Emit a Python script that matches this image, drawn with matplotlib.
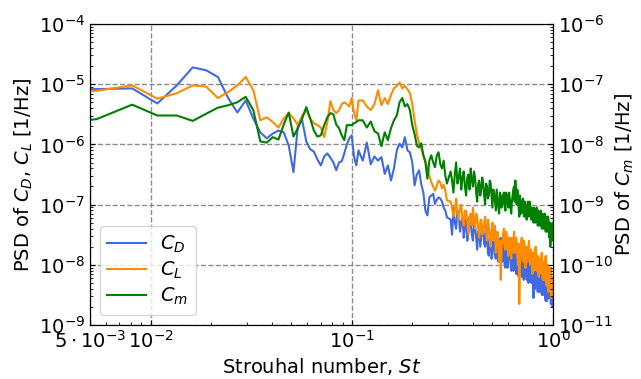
import numpy as np
import matplotlib.pyplot as plt
from matplotlib.ticker import NullFormatter

# Strouhal number bins (Welch PSD frequencies, thinned at high St)
ST = [
    0.0027, 0.0054, 0.0081, 0.0108, 0.0135, 0.0162, 0.0189, 0.0216, 0.0243, 0.0270,
    0.0297, 0.0324, 0.0351, 0.0378, 0.0405, 0.0432, 0.0459, 0.0486, 0.0513, 0.0540,
    0.0567, 0.0594, 0.0621, 0.0648, 0.0675, 0.0702, 0.0729, 0.0756, 0.0783, 0.0810,
    0.0837, 0.0864, 0.0891, 0.0918, 0.0945, 0.0972, 0.0999, 0.1026, 0.1053, 0.1080,
    0.1134, 0.1188, 0.1242, 0.1296, 0.1350, 0.1404, 0.1458, 0.1512, 0.1566, 0.1620,
    0.1674, 0.1728, 0.1782, 0.1836, 0.1890, 0.1944, 0.1998, 0.2052, 0.2106, 0.2160,
    0.2214, 0.2268, 0.2322, 0.2376, 0.2430, 0.2484, 0.2538, 0.2592, 0.2646, 0.2700,
    0.2754, 0.2808, 0.2862, 0.2916, 0.2970,
    0.310, 0.315, 0.320, 0.325, 0.330, 0.335, 0.340, 0.345, 0.350, 0.355,
    0.360, 0.365, 0.370, 0.375, 0.380, 0.385, 0.390, 0.395, 0.400, 0.405,
    0.410, 0.415, 0.420, 0.425, 0.430, 0.435, 0.440, 0.445, 0.450, 0.455,
    0.460, 0.465, 0.470, 0.475, 0.480, 0.485, 0.490, 0.495, 0.500, 0.505,
    0.510, 0.515, 0.520, 0.525, 0.530, 0.535, 0.540, 0.545, 0.550, 0.555,
    0.560, 0.565, 0.570, 0.575, 0.580, 0.585, 0.590, 0.595, 0.600, 0.605,
    0.610, 0.615, 0.620, 0.625, 0.630, 0.635, 0.640, 0.645, 0.650, 0.655,
    0.660, 0.665, 0.670, 0.675, 0.680, 0.685, 0.690, 0.695, 0.700, 0.705,
    0.710, 0.715, 0.720, 0.725, 0.730, 0.735, 0.740, 0.745, 0.750, 0.755,
    0.760, 0.765, 0.770, 0.775, 0.780, 0.785, 0.790, 0.795, 0.800, 0.805,
    0.810, 0.815, 0.820, 0.825, 0.830, 0.835, 0.840, 0.845, 0.850, 0.855,
    0.860, 0.865, 0.870, 0.875, 0.880, 0.885, 0.890, 0.895, 0.900, 0.905,
    0.910, 0.915, 0.920, 0.925, 0.930, 0.935, 0.940, 0.945, 0.950, 0.955,
    0.960, 0.965, 0.970, 0.975, 0.980, 0.985, 0.990, 0.995,
    1.000,
]

# log10 of PSD [1/Hz]
LOG_CD = [
    -5.10, -5.08, -5.07, -5.32, -5.02, -4.72, -4.77, -4.88, -5.23, -5.47,
    -5.27, -5.57, -5.80, -5.90, -5.82, -5.77, -5.80, -6.02, -6.46, -5.68,
    -5.60, -5.95, -6.08, -6.12, -6.25, -6.35, -6.20, -6.15, -6.22, -6.30,
    -6.43, -6.30, -6.28, -6.15, -6.00, -5.90, -5.85, -6.20, -6.35, -6.10,
    -6.27, -5.97, -6.33, -6.20, -6.27, -6.21, -6.49, -6.35, -6.60, -6.40,
    -6.10, -5.99, -6.05, -5.88, -6.10, -6.13, -6.30, -6.68, -6.50, -6.43,
    -6.66, -6.80, -7.10, -7.18, -6.88, -6.85, -6.82, -6.99, -6.92, -6.88,
    -6.90, -6.95, -7.05, -7.10, -7.21,
    -7.25, -7.50, -7.05, -7.30, -7.40, -7.10, -7.15, -7.45, -7.30, -7.20,
    -7.55, -7.35, -7.25, -7.60, -7.45, -7.20, -7.30, -7.50, -7.60, -7.30,
    -7.35, -7.55, -7.75, -7.45, -7.40, -7.70, -7.55, -7.40, -7.35, -7.65,
    -7.70, -7.45, -7.50, -7.80, -7.85, -7.55, -7.55, -7.90, -7.80, -7.50,
    -7.60, -7.85, -7.90, -7.60, -7.65, -7.95, -7.75, -7.60, -7.55, -7.85,
    -7.95, -7.65, -7.70, -8.00, -8.05, -7.70, -7.75, -8.05, -7.90, -7.65,
    -7.70, -7.95, -8.10, -7.75, -7.80, -8.10, -8.05, -7.80, -7.85, -8.15,
    -8.15, -7.80, -7.85, -8.20, -8.00, -7.75, -7.80, -8.10, -8.20, -7.90,
    -7.90, -8.25, -8.10, -7.85, -7.85, -8.15, -8.25, -7.95, -8.00, -8.30,
    -8.15, -7.90, -7.95, -8.25, -8.30, -8.00, -8.05, -8.35, -8.55, -8.15,
    -8.10, -8.40, -8.30, -8.05, -8.05, -8.35, -8.45, -8.10, -8.15, -8.45,
    -8.35, -8.10, -8.10, -8.40, -8.50, -8.15, -8.20, -8.50, -8.40, -8.15,
    -8.25, -8.55, -8.60, -8.25, -8.30, -8.60, -8.45, -8.20, -8.25, -8.55,
    -8.55, -8.30, -8.35, -8.65, -8.60, -8.35, -8.40, -8.70,
    -8.65,
]

LOG_CL = [
    -5.15, -5.11, -5.02, -5.24, -5.15, -5.02, -5.04, -5.23, -5.13, -5.02,
    -4.88, -5.10, -5.60, -5.55, -5.63, -5.72, -5.57, -5.48, -5.57, -5.68,
    -5.52, -5.43, -5.57, -5.65, -5.68, -5.72, -5.88, -5.63, -5.28, -5.43,
    -5.48, -5.43, -5.33, -5.30, -5.33, -5.37, -5.23, -5.47, -5.60, -5.27,
    -5.27, -5.37, -5.43, -5.33, -5.10, -5.35, -5.23, -5.33, -5.18, -5.07,
    -5.03, -4.97, -5.07, -5.03, -5.08, -5.15, -5.33, -5.60, -5.83, -5.98,
    -6.07, -6.18, -6.27, -6.40, -6.52, -6.63, -6.70, -6.77, -6.68, -6.60,
    -6.63, -6.73, -6.67, -6.77, -6.93,
    -6.95, -7.05, -7.20, -7.10, -6.90, -7.15, -7.25, -7.05, -7.00, -7.25,
    -7.35, -7.10, -7.10, -7.30, -7.50, -7.20, -7.15, -7.35, -7.05, -7.25,
    -7.40, -7.15, -7.20, -7.40, -7.55, -7.30, -7.25, -7.50, -7.45, -7.30,
    -7.20, -7.45, -7.60, -7.25, -7.35, -7.55, -7.70, -7.45, -7.30, -7.60,
    -7.55, -7.35, -7.80, -7.55, -7.45, -7.65, -7.95, -7.60, -8.25, -7.75,
    -7.60, -7.50, -7.40, -7.65, -7.75, -7.45, -7.50, -7.70, -7.85, -7.55,
    -7.55, -7.75, -7.90, -7.55, -7.60, -7.80, -7.45, -7.65, -7.80, -7.55,
    -7.60, -7.85, -8.00, -7.65, -8.65, -7.95, -7.70, -7.60, -7.55, -7.85,
    -7.95, -7.60, -7.65, -7.90, -8.05, -7.70, -7.70, -7.95, -7.90, -7.70,
    -7.60, -7.90, -8.00, -7.75, -7.75, -8.00, -8.15, -7.85, -7.80, -8.10,
    -8.05, -7.80, -7.70, -8.05, -8.10, -7.85, -7.85, -8.15, -8.20, -7.90,
    -7.90, -8.15, -8.10, -7.85, -7.80, -8.10, -8.25, -7.95, -7.95, -8.25,
    -8.15, -7.95, -7.85, -8.20, -8.35, -8.05, -8.00, -8.25, -8.45, -8.05,
    -8.10, -8.35, -8.30, -8.05, -8.55, -8.30, -8.20, -8.50,
    -8.40,
]

LOG_CM = [
    -7.70, -7.58, -7.34, -7.52, -7.52, -7.61, -7.49, -7.39, -7.35, -7.30,
    -7.21, -7.43, -7.95, -7.97, -7.88, -7.92, -7.67, -7.47, -7.87, -7.73,
    -7.57, -7.38, -7.57, -7.77, -7.87, -7.85, -7.68, -7.55, -7.48, -7.50,
    -7.67, -7.73, -7.85, -7.93, -7.68, -7.68, -7.68, -7.65, -7.63, -7.60,
    -7.60, -7.72, -7.62, -7.78, -7.82, -8.03, -7.80, -7.93, -7.73, -7.60,
    -7.52, -7.30, -7.23, -7.37, -7.33, -7.43, -7.68, -7.83, -8.02, -8.05,
    -7.98, -8.18, -8.30, -8.57, -8.27, -8.18, -8.30, -8.38, -8.18, -8.13,
    -8.33, -8.40, -8.27, -8.52, -8.65,
    -8.45, -8.60, -8.80, -8.50, -8.30, -8.65, -8.55, -8.40, -8.75, -8.55,
    -8.45, -8.70, -8.85, -8.55, -8.50, -8.75, -8.40, -8.60, -8.70, -8.45,
    -8.55, -8.80, -8.95, -8.65, -8.60, -8.85, -8.75, -8.55, -8.65, -8.85,
    -9.00, -8.65, -8.70, -8.90, -8.85, -8.60, -8.65, -8.85, -9.05, -8.75,
    -8.80, -8.95, -9.10, -8.75, -8.90, -9.05, -9.15, -8.80, -8.85, -9.05,
    -9.00, -8.85, -8.80, -9.00, -9.10, -8.80, -8.85, -8.95, -9.05, -8.80,
    -8.90, -9.05, -9.15, -8.95, -8.85, -8.75, -8.70, -8.95, -8.60, -8.80,
    -9.00, -8.75, -8.85, -9.05, -9.20, -8.85, -8.95, -9.15, -9.10, -8.95,
    -8.90, -9.15, -9.20, -8.95, -9.05, -9.15, -9.25, -9.05, -8.95, -9.20,
    -9.15, -8.95, -9.00, -9.20, -9.25, -9.05, -9.05, -9.20, -9.30, -9.05,
    -9.10, -9.30, -9.20, -9.15, -9.05, -9.25, -9.35, -9.10, -9.15, -9.35,
    -9.30, -9.15, -9.10, -9.30, -9.40, -9.15, -9.20, -9.40, -9.30, -9.20,
    -9.15, -9.35, -9.45, -9.25, -9.20, -9.45, -9.35, -9.20, -9.25, -9.40,
    -9.55, -9.30, -9.70, -9.45, -9.45, -9.60, -9.35, -9.30,
    -9.40,
]

XTICKS = [0.005, 0.01, 0.1, 1.0]
XTICK_LABELS = [r"$5\cdot10^{-3}$", r"$10^{-2}$", r"$10^{-1}$", r"$10^{0}$"]

st = np.array(ST)
psd_cd = 10.0 ** np.array(LOG_CD)
psd_cl = 10.0 ** np.array(LOG_CL)
psd_cm = 10.0 ** np.array(LOG_CM)

plt.rcParams["font.size"] = 14

fig = plt.figure(figsize=(6.41, 3.79), dpi=100)
ax = fig.add_axes([0.1404, 0.1425, 0.7223, 0.7942])
ax2 = ax.twinx()

l1, = ax.loglog(st, psd_cd, color="royalblue", lw=1.5, label=r"$C_D$")
l2, = ax.loglog(st, psd_cl, color="darkorange", lw=1.5, label=r"$C_L$")
l3, = ax2.loglog(st, psd_cm, color="green", lw=1.5, label=r"$C_m$")

ax.set_xlim(0.005, 1.0)
ax.set_ylim(1e-9, 1e-4)
ax2.set_ylim(1e-11, 1e-6)

ax.set_xticks(XTICKS)
ax.set_xticklabels(XTICK_LABELS)
ax.xaxis.set_minor_formatter(NullFormatter())

ax.tick_params(which="both", direction="in", labelsize=14)
ax2.tick_params(which="both", direction="in", labelsize=14)

ax.grid(True, which="major", ls="--", color="0.55", lw=1.0)

ax.set_xlabel(r"Strouhal number, $St$", fontsize=14, labelpad=3)
ax.set_ylabel(r"PSD of $C_D$, $C_L$ [1/Hz]", fontsize=14, labelpad=3)
ax2.set_ylabel(r"PSD of $C_m$ [1/Hz]", fontsize=14, labelpad=1)

ax2.legend([l1, l2, l3], [r"$C_D$", r"$C_L$", r"$C_m$"], loc="lower left",
           fontsize=14, labelspacing=0.25, handletextpad=0.7)

fig.savefig("out.png", dpi=100)
